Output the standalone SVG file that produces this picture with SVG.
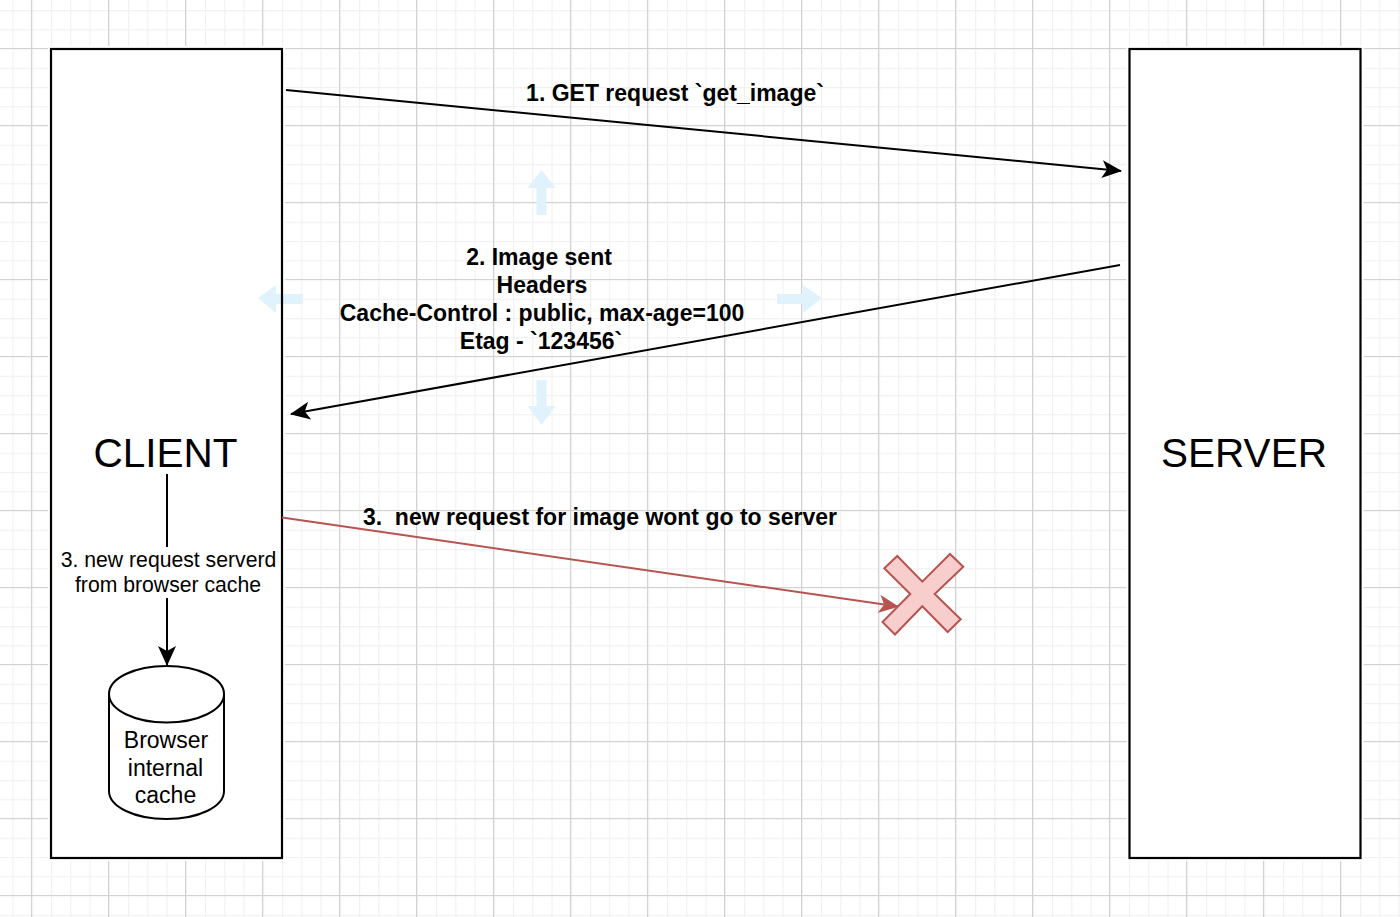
<svg xmlns="http://www.w3.org/2000/svg" width="1400" height="917" viewBox="0 0 1400 917">
<defs>
<pattern id="minor" width="19.25" height="19.25" patternUnits="userSpaceOnUse" x="12.5" y="10">
<path d="M0.5 0V19.25M0 0.5H19.25" fill="none" stroke="#f1f1f1" stroke-width="1.4"/>
</pattern>
<pattern id="major" width="77" height="77" patternUnits="userSpaceOnUse" x="31" y="48">
<path d="M0.5 0V77M0 0.5H77" fill="none" stroke="#d2d2d2" stroke-width="1.2"/>
</pattern>
<marker id="ah" viewBox="0 0 20 18" markerWidth="20" markerHeight="18" refX="19" refY="9" orient="auto" markerUnits="userSpaceOnUse">
<path d="M0 0L20 9L0 18L5 9Z" fill="#000"/>
</marker>
<marker id="ahr" viewBox="0 0 20 18" markerWidth="20" markerHeight="18" refX="19" refY="9" orient="auto" markerUnits="userSpaceOnUse">
<path d="M0 0L20 9L0 18L5 9Z" fill="#b85450"/>
</marker>
</defs>
<style>
text{font-family:"Liberation Sans",Arial,sans-serif;fill:#000;text-anchor:middle}
.box{fill:none;stroke:#000;stroke-width:2.2}
.halo{fill:#fff;stroke:#fff;stroke-width:6}
.big{font-size:40.500px}
.lb{font-size:23px;font-weight:bold}
.sm{font-size:21.200px}
.db{font-size:23px}
.conn{fill:none;stroke:#000;stroke-width:2}
.pale{fill:#e0f3fc}
</style>
<rect width="1400" height="917" fill="#fff"/>
<rect width="1400" height="917" fill="url(#minor)"/>
<rect width="1400" height="917" fill="url(#major)"/>
<rect class="halo" x="51" y="49" width="231" height="809"/>
<rect class="halo" x="1129.500" y="49" width="231" height="809"/>
<g id="guides">
<path class="pale" d="M541.500 170L555.500 188H546.500V215H536.500V188H527.500Z"/>
<path class="pale" d="M541.500 425L555.500 406H546.500V380H536.500V406H527.500Z"/>
<path class="pale" d="M258 298L276 285V294H303V304H276V313Z"/>
<path class="pale" d="M822 298L803 285V294H777V304H803V313Z"/>
</g>
<g id="client">
<rect class="box" x="51" y="49" width="231" height="809"/>
<text class="big" x="165.500" y="467">CLIENT</text>
</g>
<g id="server">
<rect class="box" x="1129.500" y="49" width="231" height="809"/>
<text class="big" x="1244" y="467">SERVER</text>
</g>
<g id="cache">
<path d="M109 694C109 678 135 666 166.500 666C198 666 224 678 224 694V791C224 807 198 819 166.500 819C135 819 109 807 109 791Z" fill="#fff" stroke="#000" stroke-width="2"/>
<path d="M109 694C109 710 135 722.500 166.500 722.500C198 722.500 224 710 224 694" fill="none" stroke="#000" stroke-width="2"/>
<text class="db" x="166" y="747.500">Browser</text>
<text class="db" x="165.500" y="775.500">internal</text>
<text class="db" x="165.500" y="802.500">cache</text>
</g>
<g id="blocked">
<polygon points="897.300,556 922.300,581.700 950,554 963.300,566.700 934.700,594 960.700,619.300 947.700,632 922.300,606.300 895,634.500 882.500,622 910.300,594 884.300,568.300" fill="#f8cecc" stroke="#b85450" stroke-width="2"/>
</g>
<g id="connectors">
<line class="conn" x1="286" y1="90" x2="1121" y2="171" marker-end="url(#ah)"/>
<line class="conn" x1="1120" y1="265" x2="291" y2="414" marker-end="url(#ah)"/>
<line x1="282" y1="517.500" x2="898" y2="606.500" fill="none" stroke="#b85450" stroke-width="2" marker-end="url(#ahr)"/>
<line class="conn" x1="167" y1="474" x2="167" y2="547"/>
<line class="conn" x1="167" y1="598" x2="167" y2="665" marker-end="url(#ah)"/>
</g>
<g id="labels">
<text class="lb" x="675" y="101">1. GET request `get_image`</text>
<text class="lb" x="539" y="265">2. Image sent</text>
<text class="lb" x="542" y="293">Headers</text>
<text class="lb" x="542" y="321">Cache-Control : public, max-age=100</text>
<text class="lb" x="541" y="349">Etag - `123456`</text>
<text class="lb" x="600" y="525">3.&#160; new request for image wont go to server</text>
<text class="sm" x="168.500" y="567">3. new request serverd</text>
<text class="sm" x="168" y="592">from browser cache</text>
</g>
</svg>
